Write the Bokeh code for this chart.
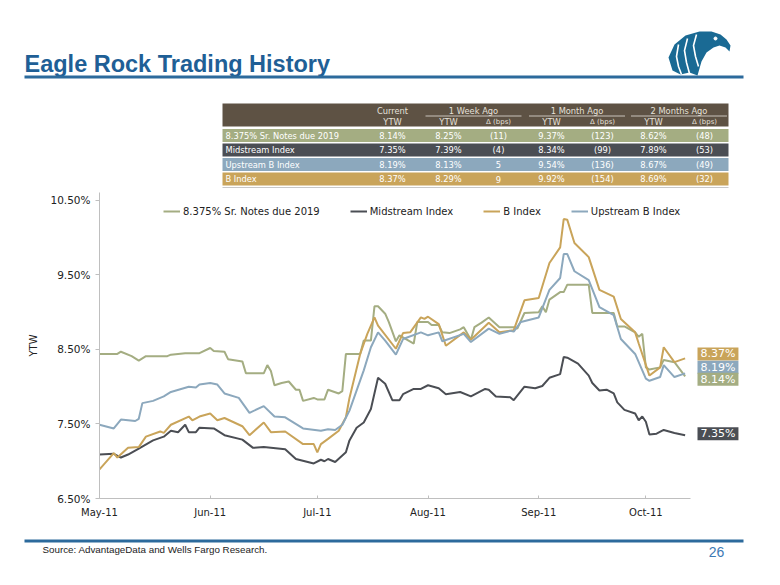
import pandas as pd
from datetime import datetime, timedelta
from bokeh.plotting import figure
from bokeh.layouts import column
from bokeh.models import (Range1d, Label, Legend, LegendItem, MonthsTicker,
                          DatetimeTickFormatter, FixedTicker, PrintfTickFormatter)
from bokeh.core.properties import value
from bokeh.embed import file_html
from bokeh.resources import INLINE

# ---------------- data ----------------
notes_dates = ["05-01","05-06","05-07","05-10","05-12","05-14","05-20","05-21","05-25","05-29",
               "06-01","06-02","06-05","06-06","06-10","06-11","06-16","06-17","06-18","06-19",
               "06-21","06-23","06-25","06-26","06-27","06-30","07-01","07-03","07-04","07-07",
               "07-08","07-09","07-13","07-14","07-16","07-17","07-18","07-20","07-21","07-23",
               "07-24","07-28","07-29","08-01","08-02","08-04","08-05","08-07","08-10","08-11",
               "08-13","08-14","08-16","08-18","08-21","08-25","08-26","08-28","09-01","09-02",
               "09-03","09-04","09-07","09-08","09-09","09-15","09-16","09-22","09-23","09-25",
               "09-28","09-29","09-30","10-01","10-02","10-05","10-06","10-09","10-12"]
notes_ytw = [8.44,8.44,8.47,8.41,8.35,8.41,8.41,8.43,8.45,8.45,
             8.52,8.48,8.47,8.37,8.34,8.18,8.18,8.29,8.21,8.02,
             8.05,8.07,7.96,7.96,7.81,7.85,7.83,7.83,7.96,7.91,
             7.94,8.44,8.44,8.62,8.62,9.08,9.08,8.98,8.87,8.61,
             8.69,8.58,8.87,8.87,8.83,8.83,8.73,8.72,8.77,8.80,
             8.63,8.80,8.86,8.93,8.80,8.80,8.78,8.99,9.00,9.08,
             9.00,9.17,9.27,9.27,9.37,9.37,8.99,8.99,8.81,8.81,
             8.73,8.67,8.71,8.26,8.23,8.26,8.36,8.33,8.14]

mid_dates = ["05-01","05-05","05-07","05-09","05-12","05-16","05-19","05-21","05-23","05-25",
             "05-26","05-28","05-29","06-02","06-05","06-10","06-13","06-16","06-18","06-22",
             "06-25","06-30","07-02","07-03","07-04","07-06","07-09","07-10","07-12","07-14",
             "07-16","07-18","07-20","07-22","07-24","07-25","07-28","07-30","08-01","08-04",
             "08-06","08-10","08-13","08-17","08-18","08-20","08-24","08-25","08-28","08-31",
             "09-02","09-04","09-07","09-08","09-09","09-12","09-15","09-16","09-18","09-20",
             "09-22","09-23","09-25","09-28","09-29","09-30","10-01","10-02","10-04","10-06",
             "10-09","10-12"]
mid_ytw = [7.09,7.10,7.05,7.09,7.17,7.28,7.33,7.41,7.39,7.49,
           7.39,7.39,7.45,7.44,7.35,7.29,7.18,7.19,7.18,7.16,
           7.03,6.97,7.02,7.00,7.03,6.99,7.12,7.28,7.45,7.52,
           7.70,8.12,8.04,7.82,7.82,7.90,7.97,7.97,8.02,7.98,
           7.90,7.93,7.87,7.97,7.96,7.87,7.86,7.82,8.00,7.98,
           8.01,8.12,8.17,8.40,8.39,8.31,8.15,8.05,7.95,7.96,
           7.91,7.79,7.69,7.64,7.55,7.60,7.53,7.36,7.37,7.42,
           7.38,7.35]

bidx_dates = ["05-01","05-05","05-06","05-09","05-12","05-14","05-18","05-19","05-21","05-26",
              "05-27","05-29","06-01","06-03","06-05","06-10","06-12","06-16","06-18","06-22",
              "06-27","06-30","07-01","07-02","07-04","07-07","07-09","07-10","07-13","07-15",
              "07-17","07-18","07-23","07-25","07-27","07-30","07-31","08-01","08-04","08-06",
              "08-11","08-13","08-18","08-21","08-25","08-28","09-01","09-04","09-07","09-08",
              "09-09","09-11","09-15","09-18","09-22","09-24","09-28","09-29","10-02","10-05",
              "10-06","10-09","10-12"]
bidx_ytw = [6.89,7.11,7.05,7.18,7.19,7.33,7.40,7.38,7.49,7.60,
            7.55,7.60,7.64,7.55,7.58,7.47,7.35,7.52,7.39,7.40,
            7.23,7.23,7.12,7.23,7.30,7.41,7.59,7.85,8.44,8.71,
            8.93,8.82,8.51,8.72,8.73,8.93,8.91,8.94,8.84,8.55,
            8.73,8.63,8.86,8.73,8.76,9.16,9.19,9.66,9.87,10.25,
            10.24,9.93,9.74,9.30,9.21,8.91,8.73,8.58,8.15,8.26,
            8.53,8.33,8.38]

up_dates = ["05-01","05-05","05-07","05-11","05-12","05-13","05-16","05-19","05-21","05-26",
            "05-28","05-29","06-01","06-03","06-05","06-09","06-12","06-16","06-19","06-22",
            "06-27","07-02","07-04","07-06","07-08","07-10","07-14","07-16","07-18","07-20",
            "07-23","07-25","07-30","08-01","08-04","08-05","08-11","08-13","08-18","08-21",
            "08-24","08-25","08-27","09-01","09-04","09-07","09-08","09-09","09-11","09-15",
            "09-18","09-22","09-24","09-28","10-01","10-02","10-05","10-06","10-09","10-12"]
up_ytw = [7.49,7.44,7.56,7.54,7.57,7.78,7.81,7.87,7.93,8.00,
          7.99,8.03,8.05,8.03,7.91,7.85,7.65,7.74,7.60,7.59,
          7.44,7.41,7.43,7.42,7.49,7.68,8.22,8.53,8.73,8.62,
          8.43,8.64,8.73,8.69,8.73,8.61,8.71,8.60,8.78,8.71,
          8.75,8.74,8.87,8.93,9.30,9.46,9.78,9.78,9.55,9.43,
          9.07,8.96,8.64,8.44,8.11,8.08,8.13,8.29,8.13,8.18]

y_ticks = [6.5, 7.5, 8.5, 9.5, 10.5]

# table
row_labels = ["8.375% Sr. Notes due 2019", "Midstream Index", "Upstream B Index", "B Index"]
cur_ytw = ["8.14%", "7.35%", "8.19%", "8.37%"]
wk_ytw = ["8.25%", "7.39%", "8.13%", "8.29%"]
wk_bps = ["(11)", "(4)", "5", "9"]
mo_ytw = ["9.37%", "8.34%", "9.54%", "9.92%"]
mo_bps = ["(123)", "(99)", "(136)", "(154)"]
m2_ytw = ["8.62%", "7.89%", "8.67%", "8.69%"]
m2_bps = ["(48)", "(53)", "(49)", "(32)"]
group_heads = ["1 Week Ago", "1 Month Ago", "2 Months Ago"]

# end-of-series labels
end_vals = [8.37, 8.19, 8.14, 7.35]
end_txt = ["8.37%", "8.19%", "8.14%", "7.35%"]

# ---------------- styling ----------------
C_NOTES = "#A4AD82"
C_MID = "#4B4E54"
C_BIDX = "#C9A45A"
C_UP = "#8CA8BD"
ROW_COLORS = [C_NOTES, C_MID, C_UP, C_BIDX]
END_COLORS = [C_BIDX, C_UP, C_NOTES, C_MID]
HEAD_BG = "#5E5244"
BLUE = "#1F5F96"
RULE = "#2C6A9C"
VER = value("DejaVu Sans")
ARIAL = value("Liberation Sans")
W = 764

# ---------------- header ----------------
hdr = figure(width=W, height=188, x_range=Range1d(0, W), y_range=Range1d(188, 0),
             x_axis_location=None, y_axis_location=None, toolbar_location=None,
             output_backend="svg", min_border=0, outline_line_color=None)
hdr.grid.visible = False
hdr.frame_align = False

hdr.text(x=[24], y=[63], text=["Eagle Rock Trading History"], text_font=ARIAL,
         text_font_style="bold", text_font_size="23.5px", text_color=BLUE,
         text_baseline="alphabetic", text_align="left")
hdr.quad(left=[24], right=[743], top=[75], bottom=[78], color=RULE, line_color=None)

# logo (stylised eagle head)
ox, oy = 668, 30
head = [(4, 40), (0, 27), (6, 14), (17, 5), (31, 1), (43, 1), (52, 4), (58, 9), (62, 15),
        (61, 21), (57, 17), (51, 15), (45, 17), (38, 22), (33, 31), (29, 45), (21, 42), (12, 44)]
hdr.patch([ox + a for a, b in head], [oy + b for a, b in head], color="#1A6A94", line_color=None)
stripes = [[(10, 14), (8, 26), (10, 36), (13, 44)],
           [(19, 8), (16, 20), (18, 32), (21, 43)],
           [(28, 4), (25, 15), (27, 26), (30, 36)]]
for s in stripes:
    hdr.line([ox + a for a, b in s], [oy + b for a, b in s], line_color="white", line_width=1.6)
hdr.scatter([ox + 47], [oy + 8], size=3, color="white")

# table
TL, TR = 222, 728
hdr.quad(left=[TL], right=[TR], top=[103], bottom=[126], color=HEAD_BG, line_color=None)
row_c = [135, 149.5, 164, 178.5]
hdr.quad(left=[TL] * 4, right=[TR] * 4, top=[c - 6.4 for c in row_c],
         bottom=[c + 6.4 for c in row_c], color=ROW_COLORS, line_color=None)
hdr.quad(left=[TL], right=[TR], top=[186.5], bottom=[187.5], color="#C8C8C8", line_color=None)

col_x = [392, 448, 498, 551, 602, 653, 704]
cols = [cur_ytw, wk_ytw, wk_bps, mo_ytw, mo_bps, m2_ytw, m2_bps]
HTXT = "#E6E1DA"
hdr.text(x=[col_x[0]], y=[110], text=["Current"], text_font=VER, text_font_size="8.3px",
         text_color=HTXT, text_align="center", text_baseline="middle")
g_c = [473, 576.5, 678.5]
for gc, gname in zip(g_c, group_heads):
    hdr.text(x=[gc], y=[110], text=[gname], text_font=VER, text_font_size="8.3px",
             text_color=HTXT, text_align="center", text_baseline="middle")
    hdr.segment(x0=[gc - 48], x1=[gc + 48], y0=[115.5], y1=[115.5], line_color=HTXT, line_width=0.8)
sub = ["YTW", "YTW", "\u0394 (bps)", "YTW", "\u0394 (bps)", "YTW", "\u0394 (bps)"]
for cx, s in zip(col_x, sub):
    hdr.text(x=[cx], y=[121], text=[s], text_font=VER,
             text_font_size="8.3px" if s == "YTW" else "7px",
             text_color=HTXT, text_align="center", text_baseline="middle")
hdr.text(x=[225] * 4, y=row_c, text=row_labels, text_font=VER, text_font_size="8.3px",
         text_color="white", text_align="left", text_baseline="middle")
for cx, col in zip(col_x, cols):
    hdr.text(x=[cx] * 4, y=row_c, text=col, text_font=VER, text_font_size="8.3px",
             text_color="white", text_align="center", text_baseline="middle")

# ---------------- chart ----------------
X0 = datetime(2011, 5, 1)
AX_END = datetime(2011, 10, 13, 12)
FRAME_L, AXIS_R, FRAME_R = 99, 690, 745
px_day = (AXIS_R - FRAME_L) / ((AX_END - X0).total_seconds() / 86400)
X1 = X0 + timedelta(days=(FRAME_R - FRAME_L) / px_day)

p = figure(width=W, height=340, x_axis_type="datetime",
           x_range=Range1d(start=X0, end=X1),
           y_range=Range1d(6.5, 10.607), toolbar_location=None, output_backend="svg",
           min_border_left=FRAME_L, min_border_right=W - FRAME_R, min_border_top=4,
           min_border_bottom=30, outline_line_color=None)
p.grid.visible = False
p.frame_align = False

def dts(lst):
    return pd.to_datetime(["2011-" + d for d in lst])

series = [
    ("8.375% Sr. Notes due 2019", notes_dates, notes_ytw, C_NOTES),
    ("Midstream Index", mid_dates, mid_ytw, C_MID),
    ("B Index", bidx_dates, bidx_ytw, C_BIDX),
    ("Upstream B Index", up_dates, up_ytw, C_UP),
]
items = []
for name, d, v, c in series:
    r = p.line(dts(d), v, line_color=c, line_width=2)
    items.append(LegendItem(label=name, renderers=[r]))

legend = Legend(items=items, orientation="horizontal", location=(64, 281),
                padding=0, margin=0, border_line_color=None, background_fill_alpha=0,
                glyph_width=17, glyph_height=12, label_height=12, label_standoff=3,
                spacing=30, label_text_font="DejaVu Sans", label_text_font_size="10px",
                label_text_color="#222222")
p.add_layout(legend)

for ax in (p.xaxis, p.yaxis):
    ax.axis_line_color = "#BFBFBF"
    ax.major_tick_line_color = "#BFBFBF"
    ax.minor_tick_line_color = None
    ax.major_label_text_font = "DejaVu Sans"
    ax.major_label_text_font_size = "10px"
    ax.major_label_text_color = "#222222"

p.yaxis.ticker = FixedTicker(ticks=y_ticks)
p.yaxis.formatter = PrintfTickFormatter(format="%.2f%%")
p.yaxis.major_label_text_font_size = "10.5px"
p.yaxis.major_tick_out = 4
p.yaxis.major_tick_in = 0
p.yaxis.major_label_standoff = 5
p.yaxis.axis_label = "YTW"
p.yaxis.axis_label_text_font = "DejaVu Sans"
p.yaxis.axis_label_text_font_size = "10px"
p.yaxis.axis_label_text_font_style = "normal"
p.yaxis.axis_label_text_color = "#222222"
p.yaxis.axis_label_standoff = 8

p.xaxis.bounds = (X0, AX_END)
p.xaxis.ticker = MonthsTicker(months=list(range(12)))
p.xaxis.formatter = DatetimeTickFormatter(months="%b-%y", days="%b-%y", years="%b-%y")
p.xaxis.major_tick_in = 3
p.xaxis.major_tick_out = 0
p.xaxis.major_label_standoff = 8

# end-value labels
nudge = [0.07, 0.07, -0.04, 0.02]
lab_dt = X0 + timedelta(days=(697 - FRAME_L) / px_day)
lab_x = (lab_dt - datetime(1970, 1, 1)).total_seconds() * 1000
for v, t, c, n in zip(end_vals, end_txt, END_COLORS, nudge):
    p.add_layout(Label(x=lab_x, y=v + n, text=t, text_font="DejaVu Sans",
                       text_font_size="11px", text_color="white", text_align="left",
                       text_baseline="middle", background_fill_color=c,
                       background_fill_alpha=1.0,
                       padding=dict(left=3, right=3, top=0, bottom=0)))

# ---------------- footer ----------------
ftr = figure(width=W, height=49, x_range=Range1d(0, W), y_range=Range1d(577, 528),
             x_axis_location=None, y_axis_location=None, toolbar_location=None,
             output_backend="svg", min_border=0, outline_line_color=None)
ftr.grid.visible = False
ftr.frame_align = False
ftr.quad(left=[24], right=[743], top=[539], bottom=[542], color=RULE, line_color=None)
ftr.text(x=[42], y=[549], text=["Source:  AdvantageData and Wells Fargo Research."],
         text_font=ARIAL, text_font_size="9.8px", text_color="#222222",
         text_baseline="middle", text_align="left")
ftr.text(x=[716], y=[551], text=["26"], text_font=ARIAL, text_font_size="14px",
         text_color="#3C79B4", text_baseline="middle", text_align="center")

layout = column(hdr, p, ftr, spacing=0)
open("out.html", "w").write(file_html(layout, INLINE))
